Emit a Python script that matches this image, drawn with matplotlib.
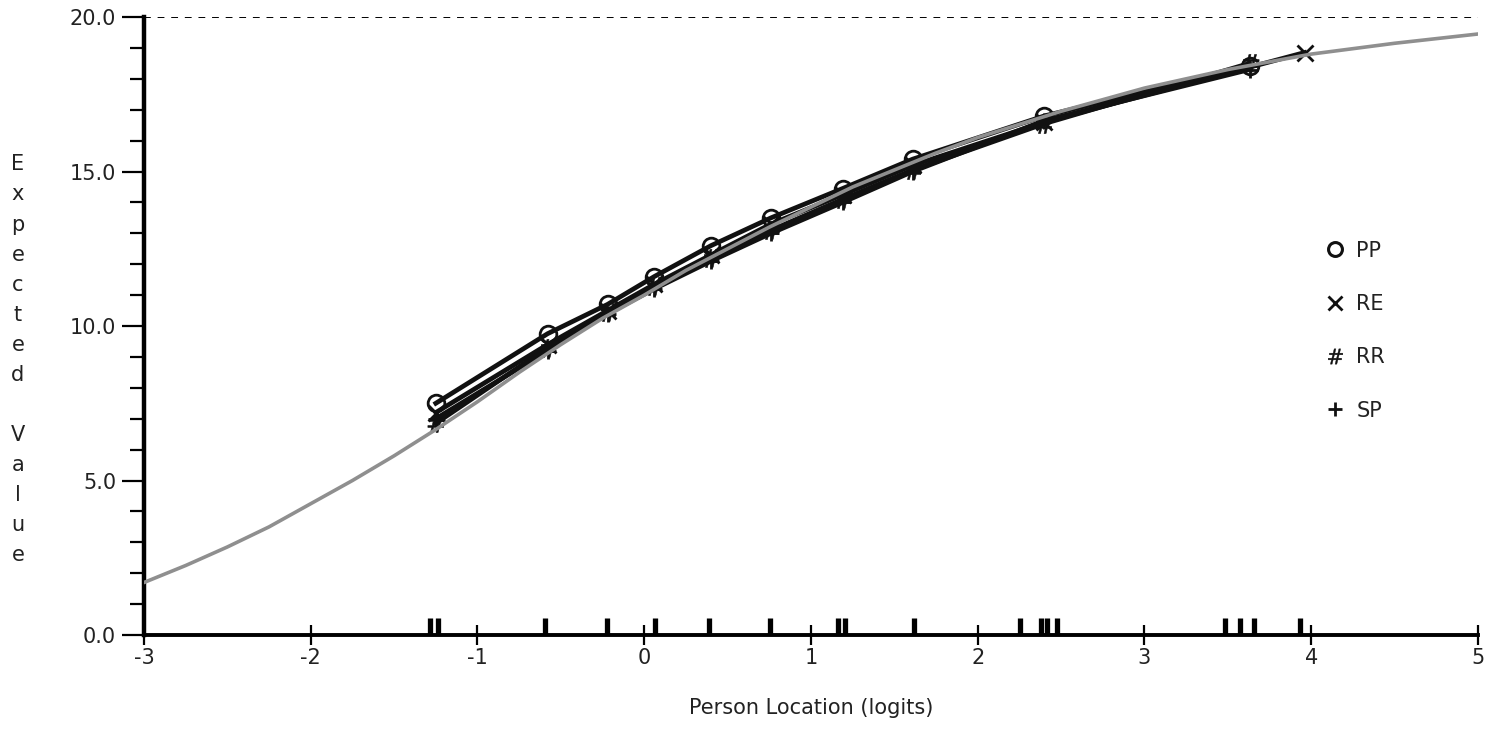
import matplotlib
matplotlib.use("Agg")
import matplotlib.pyplot as plt
from matplotlib.lines import Line2D

# Expected value curve (grey)
curve_x = [-3.0, -2.75, -2.5, -2.25, -2.0, -1.75, -1.5, -1.25, -1.0, -0.75, -0.5, -0.25, 0.0,
           0.25, 0.5, 0.75, 1.0, 1.25, 1.5, 1.75, 2.0, 2.5, 3.0, 3.5, 4.0, 4.5, 5.0]
curve_y = [1.7, 2.25, 2.85, 3.5, 4.25, 5.0, 5.8, 6.65, 7.55, 8.5, 9.4, 10.25, 11.0,
           11.8, 12.5, 13.2, 13.85, 14.5, 15.05, 15.6, 16.1, 16.95, 17.7, 18.3, 18.8, 19.15, 19.45]

# Observed class-interval means per group
ci_x = [-1.25, -0.58, -0.22, 0.06, 0.40, 0.76, 1.19, 1.61, 2.40, 3.63]
re_x = [-1.25, -0.58, -0.22, 0.06, 0.40, 0.76, 1.19, 1.61, 2.40, 3.96]
pp_y = [7.5, 9.75, 10.7, 11.6, 12.6, 13.5, 14.45, 15.4, 16.8, 18.4]
re_y = [7.2, 9.4, 10.5, 11.35, 12.3, 13.3, 14.25, 15.2, 16.6, 18.85]
rr_y = [6.85, 9.3, 10.45, 11.3, 12.2, 13.1, 14.1, 15.05, 16.55, 18.5]
sp_y = [7.0, 9.2, 10.4, 11.2, 12.1, 13.0, 14.0, 15.0, 16.65, 18.3]

series_names = ["PP", "RE", "RR", "SP"]

# Person locations (rug)
persons = [-1.285, -1.237, -0.595, -0.223, 0.064, 0.388, 0.754, 1.162, 1.204, 1.618,
           2.253, 2.379, 2.415, 2.475, 3.483, 3.573, 3.657, 3.933]

x_ticks = [-3, -2, -1, 0, 1, 2, 3, 4, 5]
y_ticks = [0.0, 5.0, 10.0, 15.0, 20.0]

plt.rcParams['font.family'] = ['DejaVu Sans']
fig = plt.figure(figsize=(15, 7.3), dpi=100)
ax = fig.add_axes([0.096, 0.1301, 0.8893, 0.8466])

markers = {"PP": "o", "RE": "x", "RR": r"$\#$", "SP": "+"}
data = {"PP": (ci_x, pp_y), "RE": (re_x, re_y), "RR": (ci_x, rr_y), "SP": (ci_x, sp_y)}

for name in series_names:
    xs, ys = data[name]
    m = markers[name]
    kw = dict(color="#111111", lw=3.4, marker=m, markersize=12, zorder=3)
    if m == "o":
        kw.update(markerfacecolor="none", markeredgewidth=2.0)
    elif m.startswith("$"):
        kw.update(markeredgewidth=0.4, markersize=13)
    else:
        kw.update(markeredgewidth=2.0)
    ax.plot(xs, ys, **kw)

ax.plot(curve_x, curve_y, color="#8f8f8f", lw=2.6, zorder=4)

ax.vlines(persons, 0, 0.55, color="black", lw=3.8, zorder=5)

ax.axhline(20, color="black", lw=1.4, ls=(0, (3.5, 3.5)), zorder=2)

ax.set_xlim(-3, 5)
ax.set_ylim(0, 20)
ax.set_xticks(x_ticks)
ax.set_xticklabels([str(t) for t in x_ticks])
ax.set_yticks(y_ticks)
ax.set_yticklabels([f"{t:.1f}" for t in y_ticks])
ax.set_yticks([v for v in range(1, 20) if v % 5 != 0], minor=True)

for s in ["top", "right"]:
    ax.spines[s].set_visible(False)
ax.spines["left"].set_linewidth(3.2)
ax.spines["bottom"].set_linewidth(2.8)

ax.tick_params(axis="x", direction="inout", length=14, width=1.6, labelsize=15, pad=2, colors="black")
ax.tick_params(axis="y", which="major", direction="out", length=16, width=1.6, labelsize=15, pad=4)
ax.tick_params(axis="y", which="minor", direction="out", length=10, width=1.6)
for lbl in ax.get_xticklabels() + ax.get_yticklabels():
    lbl.set_color("#222222")

ax.set_xlabel("Person Location (logits)", fontsize=15, color="#222222", labelpad=22)

ylabel = "\n".join(list("Expected")) + "\n\n" + "\n".join(list("Value"))
fig.text(0.012, 0.507, ylabel, fontsize=15, color="#222222", ha="center", va="center",
         linespacing=1.63)

handles = []
for name in series_names:
    m = markers[name]
    if m == "o":
        h = Line2D([], [], ls="none", marker="o", markersize=10, markerfacecolor="none",
                   markeredgecolor="#111111", markeredgewidth=2.2)
    elif m.startswith("$"):
        h = Line2D([], [], ls="none", marker=m, markersize=11, color="#111111", markeredgewidth=0.3)
    else:
        h = Line2D([], [], ls="none", marker=m, markersize=10, color="#111111", markeredgewidth=2.0)
    handles.append(h)
leg = ax.legend(handles, series_names, loc="upper left", bbox_to_anchor=(0.879, 0.655),
                frameon=False, fontsize=15, labelspacing=1.6, handlelength=0.8,
                handletextpad=0.6, borderpad=0)
for t in leg.get_texts():
    t.set_color("#222222")

fig.savefig("out.png", dpi=100, facecolor="white")
